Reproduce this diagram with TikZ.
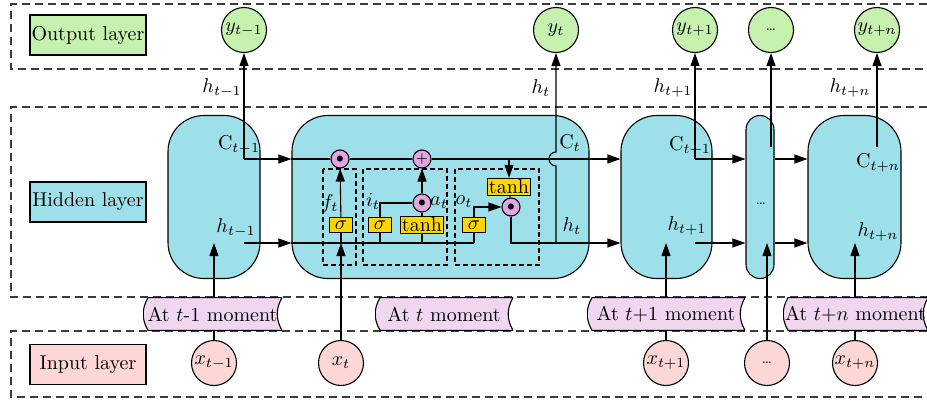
\documentclass[tikz,border=0pt]{standalone}
\usetikzlibrary{arrows.meta,positioning,calc}

\definecolor{cellblue}{RGB}{158,224,234}
\definecolor{outgreen}{RGB}{198,240,174}
\definecolor{inpink}{RGB}{253,214,214}
\definecolor{tapepink}{RGB}{241,214,241}
\definecolor{gateviolet}{RGB}{226,164,226}
\definecolor{gateyellow}{RGB}{255,214,0}
\definecolor{dashgray}{RGB}{60,60,60}

\begin{document}
\begin{tikzpicture}[x=0.5pt, y=-0.5pt, line width=0.55pt, >={Triangle[length=6.5pt,width=4.5pt]},
  layer/.style={draw=dashgray, dash pattern=on 4pt off 2.5pt, line width=0.6pt},
  lbl/.style={draw, minimum width=58pt, minimum height=20pt, inner sep=0},
  outc/.style={circle, draw, fill=outgreen, minimum size=22.5pt, inner sep=0},
  inc/.style={circle, draw, fill=inpink, minimum size=22.5pt, inner sep=0},
  cell/.style={draw, fill=cellblue, rounded corners=18pt, minimum height=81.5pt, inner sep=0},
  op/.style={circle, draw, fill=gateviolet, minimum size=9pt, inner sep=0},
  gate/.style={draw, fill=gateyellow, minimum height=7.5pt, minimum width=11.5pt, inner sep=0.8pt},
  gbox/.style={draw, dash pattern=on 2.5pt off 1.5pt},
  moment/.style={minimum height=17pt, inner sep=0, path picture={
    \filldraw[fill=tapepink] ([xshift=2.5pt,yshift=-0.3pt]path picture bounding box.north west)
      to[bend right=30] ([xshift=2.5pt,yshift=0.3pt]path picture bounding box.south west)
      -- ([yshift=0.3pt]path picture bounding box.south east)
      to[bend left=30] ([yshift=-0.3pt]path picture bounding box.north east) -- cycle;}}]
\useasboundingbox (0,0) rectangle (927,402);

% layers
\draw[layer] (927,4) -| (11,69) -- (927,69);
\draw[layer] (927,107) -| (11,297) -- (927,297);
\draw[layer] (927,331) -| (11,397) -- (927,397);
\node[lbl, fill=outgreen] (outlbl) at (88,35) {Output layer};
\node[lbl, fill=cellblue] (hidlbl) at (88,202) {Hidden layer};
\node[lbl, fill=inpink] (inlbl) at (88,364.5) {Input layer};

% outputs and inputs
\node[outc] (y1) at (244,30) {$y_{t-1}$};
\node[outc] (y2) at (556,30) {$y_t$};
\node[outc] (y3) at (695,30) {$y_{t+1}$};
\node[outc] (y4) at (771,30) {\scriptsize\dots};
\node[outc] (y5) at (877,30) {$y_{t+n}$};
\node[inc] (x1) at (214,363) {$x_{t-1}$};
\node[inc] (x2) at (341,363) {$x_t$};
\node[inc] (x3) at (666,363) {$x_{t+1}$};
\node[inc] (x4) at (767,363) {\scriptsize\dots};
\node[inc] (x5) at (855,363) {$x_{t+n}$};

% cells
\node[cell, minimum width=46pt] (c1) at (214,197) {};
\node[cell, minimum width=148.5pt] (c2) at (440.5,197) {};
\node[cell, minimum width=45.5pt] (c3) at (666.5,197) {};
\node[cell, minimum width=14pt, rounded corners=7pt] (c4) at (760,197) {};
\node[cell, minimum width=46.5pt] (c5) at (854.5,197) {};
\coordinate (c1C) at (244,159);
\coordinate (c1h) at (244,243);
\coordinate (c3C) at (695,159);
\coordinate (c3h) at (695,243);
\coordinate (c4top) at (771,147);
\coordinate (c5top) at (877,147);
\coordinate (hup) at (556,243);

% gates of the cell at t
\draw[gbox] (323,169) rectangle (356,265);
\draw[gbox] (363,169) rectangle (447,265);
\draw[gbox] (455,169) rectangle (539,265);
\node[op] (fm) at (340,159) {\scriptsize$\bullet$};
\node[op] (ad) at (422,159) {\scriptsize$+$};
\node[op] (im) at (422,203) {\scriptsize$\bullet$};
\node[op] (om) at (511,207) {\scriptsize$\bullet$};
\node[gate] (fs) at (341,225) {$\sigma$};
\node[gate] (is) at (380,225) {$\sigma$};
\node[gate] (it) at (422,225) {tanh};
\node[gate] (os) at (474,225) {$\sigma$};
\node[gate] (ot) at (509,187) {tanh};

\draw[->] (c1C) -- (y1);
\draw[->] (c1C) -- (c1C -| c2.west);
\draw[->] (c1h) -- (c1h -| c2.west);
\draw[->] (x1) -- (x1 |- c1h);
\draw (c1C -| c2.west) -- (fm) -- (ad);
\draw[->] (ad) -- (ad -| c3.west);
\draw[->] (ad -| ot) -- (ot);
\draw (ot) -- (om);
\draw[->] (om) |- (c3.west |- c1h);
\draw[->] (hup) -- ($(hup |- ad)+(0,7)$) arc[start angle=270, end angle=90, radius=3.5pt] -- (y2);
\draw[->] (x2) -- (fs |- c1h);
\draw (fs |- c1h) -- (fs);
\draw[->] (fs) -- (fm);
\draw (c1h -| c2.west) -- (os |- c1h);
\draw (is |- c1h) -- (is);
\draw (it |- c1h) -- (it);
\draw (os |- c1h) -- (os);
\draw (is) |- (im);
\draw (it) -- (im);
\draw[->] (im) -- (ad);
\draw[->] (os) |- (om);
\draw[->] (c3C) -- (y3);
\draw[->] (c3C) -- (c3C -| c4.west);
\draw[->] (c3h) -- (c3h -| c4.west);
\draw[->] (x3) -- (x3 |- c1h);
\draw[->] (c4top) -- (y4);
\draw[->] (c4.east |- c3C) -- (c5.west |- c3C);
\draw[->] (c4.east |- c3h) -- (c5.west |- c3h);
\draw[->] (x4) -- (x4 |- c1h);
\draw[->] (c5top) -- (y5);
\draw[->] (x5) -- (x5 |- c1h);

% labels
\node (lC1) at (239,145) {$\mathrm{C}_{t-1}$};
\node (lh1) at (236,228) {$h_{t-1}$};
\node (lCt) at (570,143) {$\mathrm{C}_t$};
\node (lht) at (572,226) {$h_t$};
\node (lC3) at (690,146) {$\mathrm{C}_{t+1}$};
\node (lh3) at (687,226) {$h_{t+1}$};
\node (lC5) at (878,163) {$\mathrm{C}_{t+n}$};
\node (lh5) at (878,232) {$h_{t+n}$};
\node (ldots) at (761,204) {\scriptsize\dots};
\node (lf) at (330,203) {$f_t$};
\node (li) at (373,201) {$i_t$};
\node (la) at (439,203) {$a_t$};
\node (lo) at (464,202) {$o_t$};
\node (oh1) at (222,88) {$h_{t-1}$};
\node (oh2) at (541,88) {$h_t$};
\node (oh3) at (673,88) {$h_{t+1}$};
\node (oh5) at (850,88) {$h_{t+n}$};

% moments
\node[moment, minimum width=69.5pt] (m1) at (212.5,314) {At $t$-1 moment};
\node[moment, minimum width=69pt] (m2) at (444,314) {At $t$ moment};
\node[moment, minimum width=79pt] (m3) at (666,314) {At $t$+1 moment};
\node[moment, minimum width=72.5pt] (m4) at (855.5,314) {At $t$+$n$ moment};
\end{tikzpicture}
\end{document}
